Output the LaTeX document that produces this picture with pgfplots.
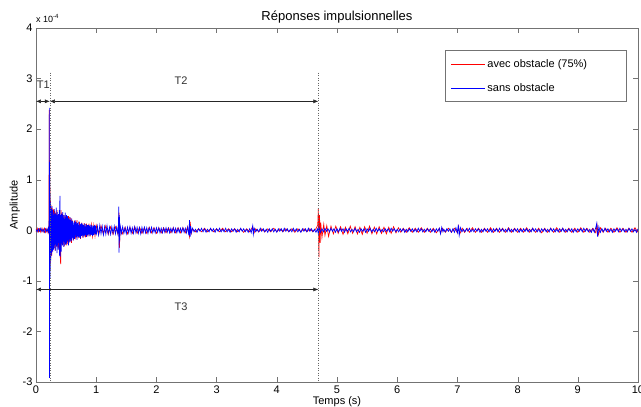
\documentclass[border=0pt]{standalone}
\usepackage{pgfplots}
\pgfplotsset{compat=1.18}
\usepackage{fontspec}
\setmainfont{Liberation Sans}
\usetikzlibrary{arrows.meta}

\begin{document}
\begin{tikzpicture}
\useasboundingbox (-36pt,-25pt) rectangle (605pt,382pt);
\begin{axis}[
  name=ax,
  scale only axis, width=602pt, height=354pt,
  xmin=0, xmax=10, ymin=-3, ymax=4,
  xtick={0,1,...,10}, ytick={-3,-2,...,4},
  xtick pos=both, ytick pos=both,
  tick align=inside, major tick length=5pt,
  axis line style={black!55}, tick style={black!55},
  font=\fontsize{11}{13}\selectfont,
  /pgf/number format/assume math mode=true,
  title={Réponses impulsionnelles},
  title style={font=\fontsize{13}{15}\selectfont, yshift=-5pt},
  xlabel={Temps (s)},
  xlabel style={yshift=4pt},
  ylabel={Amplitude},
  ylabel style={yshift=-4pt},
  legend style={at={(0.679,0.934)}, anchor=north west, draw=none, fill=none,
    font=\fontsize{11}{13}\selectfont, row sep=10pt, inner xsep=6pt, inner ysep=6pt},
  legend cell align=left,
  legend image code/.code={\draw[#1, line width=0.5pt] (0pt,0pt) -- (34pt,0pt);},
]
\draw[black!55, fill=white, line width=0.5pt] (rel axis cs:0.679,0.938) rectangle (rel axis cs:0.980,0.794);
\addplot[red, line width=0.7pt] table[x=t, y=y] {
t y
0.00 -0.03
0.02 0.04
0.04 -0.03
0.06 0.03
0.08 -0.04
0.10 0.04
0.12 -0.03
0.14 0.04
0.16 -0.04
0.18 0.03
0.20 -0.05
0.215 0.1
0.221 2.38
0.224 -2.78
0.227 1.38
0.230 -0.7
0.233 0.85
0.236 -0.65
0.240 0.6
0.244 -0.55
0.248 0.5
0.252 -0.45
0.256 0.42
0.260 -0.5
0.265 0.45
0.270 -0.42
0.275 0.38
0.280 -0.36
0.285 0.42
0.290 -0.33
0.295 0.4
0.300 -0.35
0.31 0.38
0.32 -0.4
0.33 0.35
0.34 -0.32
0.35 0.4
0.36 -0.34
0.37 0.3
0.38 -0.38
0.39 0.36
0.40 -0.45
0.41 -0.67
0.415 0.4
0.42 0.32
0.43 -0.3
0.44 0.33
0.45 -0.28
0.46 0.3
0.47 -0.32
0.48 0.27
0.49 -0.26
0.50 0.3
0.51 -0.3
0.52 0.25
0.53 -0.27
0.54 0.28
0.55 -0.24
0.56 0.26
0.57 -0.22
0.58 0.24
0.59 -0.25
0.60 0.2
0.62 -0.2
0.64 0.19
0.66 -0.18
0.68 0.2
0.70 -0.16
0.72 0.17
0.74 -0.17
0.76 0.15
0.78 -0.15
0.80 0.14
0.82 -0.14
0.84 0.13
0.86 -0.12
0.88 0.13
0.90 -0.12
0.92 0.11
0.94 -0.12
0.96 0.1
0.98 -0.11
1.00 0.1
1.04 -0.09
1.08 0.09
1.12 -0.08
1.16 0.09
1.20 -0.08
1.24 0.07
1.28 -0.08
1.32 0.07
1.36 -0.07
1.38 0.35
1.385 -0.35
1.40 0.06
1.44 -0.07
1.48 0.06
1.52 -0.07
1.56 0.06
1.60 -0.06
1.64 0.07
1.68 -0.06
1.72 0.06
1.76 -0.06
1.80 0.05
1.84 -0.06
1.88 0.06
1.92 -0.05
1.96 0.05
2.00 -0.06
2.04 0.05
2.08 -0.05
2.12 0.05
2.16 -0.05
2.20 0.05
2.24 -0.05
2.28 0.05
2.32 -0.05
2.36 0.05
2.40 -0.05
2.44 0.05
2.48 -0.05
2.52 0.07
2.55 -0.12
2.56 0.17
2.58 -0.06
2.60 0.03
2.65 -0.03
2.70 0.03
2.75 -0.03
2.80 0.04
2.85 -0.03
2.90 0.03
2.95 -0.03
3.00 0.03
3.05 -0.03
3.10 0.04
3.15 -0.03
3.20 0.03
3.25 -0.03
3.30 0.03
3.35 -0.03
3.40 0.03
3.45 -0.04
3.50 0.03
3.55 -0.03
3.60 0.07
3.62 -0.06
3.65 0.03
3.70 -0.03
3.75 0.03
3.80 -0.03
3.85 0.03
3.90 -0.03
3.95 0.04
4.00 -0.03
4.05 0.03
4.10 -0.03
4.15 0.03
4.20 -0.03
4.25 0.03
4.30 -0.04
4.35 0.03
4.40 -0.03
4.45 0.03
4.50 -0.03
4.55 0.03
4.60 -0.03
4.65 0.03
4.68 0.1
4.69 0.43
4.70 -0.53
4.71 0.3
4.72 -0.25
4.73 0.15
4.75 -0.14
4.78 0.12
4.80 -0.1
4.83 0.09
4.86 -0.12
4.90 0.08
4.94 -0.07
4.98 0.08
5.02 -0.06
5.06 0.07
5.10 -0.08
5.14 0.06
5.18 -0.07
5.22 0.08
5.26 -0.06
5.30 0.07
5.34 -0.07
5.38 0.06
5.42 -0.08
5.46 0.07
5.50 -0.06
5.54 0.08
5.58 -0.07
5.62 0.06
5.66 -0.07
5.70 0.07
5.74 -0.06
5.78 0.06
5.82 -0.07
5.86 0.06
5.90 -0.06
5.94 0.07
5.98 -0.05
6.02 0.05
6.06 -0.04
6.10 0.04
6.15 -0.04
6.20 0.05
6.25 -0.04
6.30 0.04
6.35 -0.04
6.40 0.05
6.45 -0.04
6.50 0.04
6.55 -0.04
6.60 0.04
6.65 -0.05
6.70 0.04
6.72 -0.06
6.75 0.04
6.80 -0.04
6.85 0.04
6.90 -0.04
6.95 0.04
7.00 -0.05
7.02 0.08
7.04 -0.07
7.08 0.04
7.12 -0.04
7.16 0.04
7.20 -0.04
7.25 0.05
7.30 -0.04
7.35 0.04
7.40 -0.04
7.45 0.04
7.50 -0.04
7.55 0.05
7.60 -0.04
7.65 0.04
7.70 -0.04
7.75 0.04
7.80 -0.04
7.85 0.05
7.90 -0.04
7.95 0.04
8.00 -0.04
8.05 0.04
8.10 -0.04
8.15 0.05
8.20 -0.04
8.25 0.04
8.30 -0.04
8.35 0.04
8.40 -0.05
8.45 0.04
8.50 -0.04
8.55 0.04
8.60 -0.04
8.65 0.05
8.70 -0.04
8.75 0.04
8.80 -0.04
8.85 0.04
8.90 -0.04
8.95 0.04
9.00 -0.04
9.05 0.05
9.10 -0.04
9.15 0.04
9.20 -0.04
9.25 0.04
9.30 -0.05
9.32 0.1
9.34 -0.09
9.38 0.05
9.42 -0.04
9.46 0.04
9.50 -0.04
9.55 0.04
9.60 -0.04
9.65 0.05
9.70 -0.04
9.75 0.04
9.80 -0.04
9.85 0.04
9.90 -0.04
9.95 0.05
10.00 -0.04
};
\addlegendentry{avec obstacle (75\%)}
\addplot[blue, line width=0.7pt] table[x=t, y=y] {
t y
0.00 0.02
0.02 -0.03
0.04 0.03
0.06 -0.02
0.08 0.04
0.10 -0.03
0.12 0.02
0.14 -0.04
0.16 0.03
0.18 -0.03
0.20 0.04
0.21 -0.06
0.218 0.2
0.222 2.42
0.225 -2.92
0.228 1.05
0.231 -0.95
0.234 0.72
0.237 -0.8
0.240 0.55
0.244 -0.6
0.248 0.42
0.252 -0.5
0.256 0.38
0.260 -0.45
0.265 0.48
0.270 -0.35
0.275 0.4
0.280 -0.42
0.285 0.3
0.290 -0.38
0.295 0.35
0.300 -0.3
0.305 0.42
0.310 -0.36
0.315 0.28
0.320 -0.4
0.325 0.33
0.330 -0.28
0.335 0.45
0.340 -0.32
0.345 0.3
0.350 -0.45
0.355 0.36
0.360 -0.3
0.365 0.27
0.370 -0.38
0.375 0.32
0.380 -0.25
0.385 0.4
0.390 -0.5
0.395 0.55
0.400 0.68
0.403 -0.52
0.406 0.3
0.410 -0.35
0.415 0.28
0.420 -0.42
0.425 0.33
0.430 -0.26
0.435 0.3
0.440 -0.3
0.445 0.36
0.450 -0.22
0.455 0.25
0.460 -0.33
0.465 0.3
0.470 -0.24
0.475 0.22
0.480 -0.3
0.485 0.35
0.490 -0.2
0.495 0.24
0.500 -0.28
0.505 0.3
0.510 -0.26
0.515 0.2
0.520 -0.22
0.525 0.28
0.530 -0.2
0.535 0.24
0.540 -0.3
0.545 0.22
0.550 -0.18
0.555 0.2
0.560 -0.24
0.565 0.26
0.570 -0.18
0.575 0.2
0.580 -0.22
0.585 0.17
0.590 -0.2
0.595 0.23
0.600 -0.16
0.61 0.18
0.62 -0.2
0.63 0.15
0.64 -0.17
0.65 0.2
0.66 -0.14
0.67 0.16
0.68 -0.19
0.69 0.14
0.70 -0.13
0.71 0.17
0.72 -0.15
0.73 0.12
0.74 -0.16
0.75 0.14
0.76 -0.11
0.77 0.13
0.78 -0.14
0.79 0.1
0.80 -0.12
0.81 0.13
0.82 -0.1
0.83 0.12
0.84 -0.13
0.85 0.1
0.86 -0.09
0.87 0.11
0.88 -0.12
0.89 0.09
0.90 -0.1
0.91 0.11
0.92 -0.09
0.93 0.1
0.94 -0.11
0.95 0.08
0.96 -0.09
0.97 0.1
0.98 -0.08
0.99 0.09
1.00 -0.1
1.02 0.08
1.04 -0.09
1.06 0.1
1.08 -0.07
1.10 0.08
1.12 -0.09
1.14 0.07
1.16 -0.08
1.18 0.09
1.20 -0.07
1.22 0.06
1.24 -0.08
1.26 0.07
1.28 -0.06
1.30 0.08
1.32 -0.07
1.34 0.06
1.36 -0.07
1.37 0.1
1.375 0.47
1.38 -0.44
1.385 0.3
1.39 -0.2
1.40 0.08
1.42 -0.06
1.44 0.07
1.46 -0.06
1.48 0.05
1.50 -0.07
1.52 0.06
1.54 -0.05
1.56 0.07
1.58 -0.06
1.60 0.05
1.62 -0.06
1.64 0.07
1.66 -0.05
1.68 0.06
1.70 -0.06
1.72 0.05
1.74 -0.07
1.76 0.06
1.78 -0.05
1.80 0.06
1.82 -0.05
1.84 0.05
1.86 -0.06
1.88 0.05
1.90 -0.04
1.92 0.06
1.94 -0.05
1.96 0.04
1.98 -0.05
2.00 0.05
2.02 -0.04
2.04 0.05
2.06 -0.05
2.08 0.04
2.10 -0.05
2.12 0.04
2.14 -0.04
2.16 0.05
2.18 -0.04
2.20 0.04
2.22 -0.05
2.24 0.04
2.26 -0.04
2.28 0.05
2.30 -0.04
2.32 0.04
2.34 -0.05
2.36 0.04
2.38 -0.04
2.40 0.04
2.42 -0.04
2.44 0.05
2.46 -0.04
2.48 0.04
2.50 -0.05
2.52 0.06
2.54 -0.1
2.55 0.2
2.56 -0.13
2.57 0.08
2.58 -0.05
2.600 0.04
2.625 -0.03
2.650 0.02
2.675 -0.04
2.700 0.03
2.725 -0.02
2.750 0.04
2.775 -0.03
2.800 0.03
2.825 -0.04
2.850 0.02
2.875 -0.03
2.900 0.04
2.925 -0.02
2.950 0.03
2.975 -0.04
3.000 0.03
3.025 -0.02
3.050 0.04
3.075 -0.03
3.100 0.02
3.125 -0.03
3.150 0.04
3.175 -0.03
3.200 0.02
3.225 -0.04
3.250 0.03
3.275 -0.02
3.300 0.03
3.325 -0.04
3.350 0.02
3.375 -0.03
3.400 0.04
3.425 -0.02
3.450 0.03
3.475 -0.03
3.500 0.02
3.525 -0.04
3.550 0.03
3.575 -0.05
3.600 0.09
3.610 -0.08
3.625 0.04
3.650 -0.03
3.675 0.02
3.700 -0.03
3.725 0.04
3.750 -0.02
3.775 0.03
3.800 -0.03
3.825 0.02
3.850 -0.04
3.875 0.03
3.900 -0.02
3.925 0.03
3.950 -0.03
3.975 0.02
4.000 -0.04
4.025 0.03
4.050 -0.02
4.075 0.03
4.100 -0.03
4.125 0.04
4.150 -0.02
4.175 0.03
4.200 -0.03
4.225 0.02
4.250 -0.03
4.275 0.04
4.300 -0.02
4.325 0.03
4.350 -0.03
4.375 0.02
4.400 -0.04
4.425 0.03
4.450 -0.02
4.475 0.03
4.500 -0.03
4.525 0.04
4.550 -0.02
4.575 0.03
4.600 -0.03
4.625 0.02
4.650 -0.04
4.675 0.03
4.690 -0.07
4.700 0.06
4.725 -0.04
4.750 0.03
4.775 -0.03
4.800 0.04
4.825 -0.02
4.850 0.03
4.875 -0.03
4.900 0.04
4.925 -0.02
4.950 0.03
4.975 -0.04
5.000 0.03
5.025 -0.03
5.050 0.04
5.075 -0.02
5.100 0.03
5.125 -0.04
5.150 0.03
5.175 -0.02
5.200 0.04
5.225 -0.03
5.250 0.02
5.275 -0.03
5.300 0.04
5.325 -0.03
5.350 0.02
5.375 -0.04
5.400 0.03
5.425 -0.02
5.450 0.03
5.475 -0.04
5.500 0.03
5.525 -0.02
5.550 0.04
5.575 -0.03
5.600 0.02
5.625 -0.03
5.650 0.04
5.675 -0.02
5.700 0.03
5.725 -0.03
5.750 0.02
5.775 -0.03
5.800 0.03
5.825 -0.02
5.850 0.03
5.875 -0.03
5.900 0.04
5.925 -0.02
5.950 0.03
5.975 -0.03
6.000 0.02
6.025 -0.03
6.050 0.03
6.075 -0.02
6.100 0.03
6.125 -0.04
6.150 0.02
6.175 -0.03
6.200 0.03
6.225 -0.02
6.250 0.03
6.275 -0.03
6.300 0.02
6.325 -0.03
6.350 0.04
6.375 -0.02
6.400 0.03
6.425 -0.03
6.450 0.02
6.475 -0.03
6.500 0.03
6.525 -0.02
6.550 0.03
6.575 -0.03
6.600 0.02
6.625 -0.04
6.650 0.03
6.675 -0.02
6.700 0.04
6.720 -0.07
6.740 0.06
6.760 -0.03
6.775 0.02
6.800 -0.03
6.825 0.03
6.850 -0.02
6.875 0.03
6.900 -0.04
6.925 0.03
6.950 -0.04
6.975 0.05
7.000 -0.05
7.015 0.11
7.030 -0.1
7.050 0.05
7.075 -0.03
7.100 0.02
7.125 -0.03
7.150 0.03
7.175 -0.02
7.200 0.04
7.225 -0.03
7.250 0.02
7.275 -0.03
7.300 0.03
7.325 -0.02
7.350 0.03
7.375 -0.04
7.400 0.02
7.425 -0.03
7.450 0.03
7.475 -0.02
7.500 0.03
7.525 -0.03
7.550 0.02
7.575 -0.04
7.600 0.03
7.625 -0.02
7.650 0.03
7.675 -0.03
7.700 0.04
7.725 -0.02
7.750 0.03
7.775 -0.03
7.800 0.02
7.825 -0.03
7.850 0.04
7.875 -0.03
7.900 0.02
7.925 -0.03
7.950 0.03
7.975 -0.02
8.000 0.03
8.025 -0.04
8.050 0.02
8.075 -0.03
8.100 0.03
8.125 -0.02
8.150 0.03
8.175 -0.03
8.200 0.02
8.225 -0.03
8.250 0.04
8.275 -0.02
8.300 0.03
8.325 -0.03
8.350 0.02
8.375 -0.04
8.400 0.03
8.425 -0.02
8.450 0.03
8.475 -0.03
8.500 0.02
8.525 -0.03
8.550 0.04
8.575 -0.02
8.600 0.03
8.625 -0.03
8.650 0.02
8.675 -0.03
8.700 0.03
8.725 -0.02
8.750 0.04
8.775 -0.03
8.800 0.02
8.825 -0.03
8.850 0.03
8.875 -0.02
8.900 0.03
8.925 -0.04
8.950 0.02
8.975 -0.03
9.000 0.03
9.025 -0.02
9.050 0.03
9.075 -0.03
9.100 0.04
9.125 -0.02
9.150 0.03
9.175 -0.03
9.200 0.02
9.225 -0.04
9.250 0.03
9.275 -0.04
9.300 0.06
9.315 0.14
9.330 -0.13
9.350 0.07
9.375 -0.04
9.400 0.03
9.425 -0.03
9.450 0.04
9.475 -0.02
9.500 0.03
9.525 -0.03
9.550 0.02
9.575 -0.04
9.600 0.03
9.625 -0.02
9.650 0.03
9.675 -0.03
9.700 0.04
9.725 -0.02
9.750 0.03
9.775 -0.03
9.800 0.02
9.825 -0.03
9.850 0.04
9.875 -0.02
9.900 0.03
9.925 -0.03
9.950 0.02
9.975 -0.04
10.000 0.03
};
\addlegendentry{sans obstacle}
% annotations
\draw[black!60, line width=0.6pt, dash pattern=on 1pt off 1.5pt] (axis cs:0.23,3.12) -- (axis cs:0.23,-3);
\draw[black!60, line width=0.6pt, dash pattern=on 1pt off 1.5pt] (axis cs:4.69,3.12) -- (axis cs:4.69,-3);
\draw[black!85, line width=0.5pt, {Latex[length=5pt,width=4pt]}-{Latex[length=5pt,width=4pt]}] (axis cs:0,2.55) -- (axis cs:0.23,2.55);
\draw[black!85, line width=0.5pt, {Latex[length=5pt,width=4pt]}-{Latex[length=5pt,width=4pt]}] (axis cs:0.23,2.55) -- (axis cs:4.69,2.55);
\draw[black!85, line width=0.5pt, {Latex[length=5pt,width=4pt]}-{Latex[length=5pt,width=4pt]}] (axis cs:0,-1.17) -- (axis cs:4.69,-1.17);
\node[font=\fontsize{11}{13}\selectfont, text=black!80] at (axis cs:0.12,2.87) {T1};
\node[font=\fontsize{11}{13}\selectfont, text=black!80] at (axis cs:2.41,2.96) {T2};
\node[font=\fontsize{11}{13}\selectfont, text=black!80] at (axis cs:2.41,-1.52) {T3};
\end{axis}
\node[anchor=south west, font=\fontsize{9}{10}\selectfont, inner sep=0pt] at ([yshift=5pt]ax.north west) {x 10\textsuperscript{-4}};
\end{tikzpicture}
\end{document}
